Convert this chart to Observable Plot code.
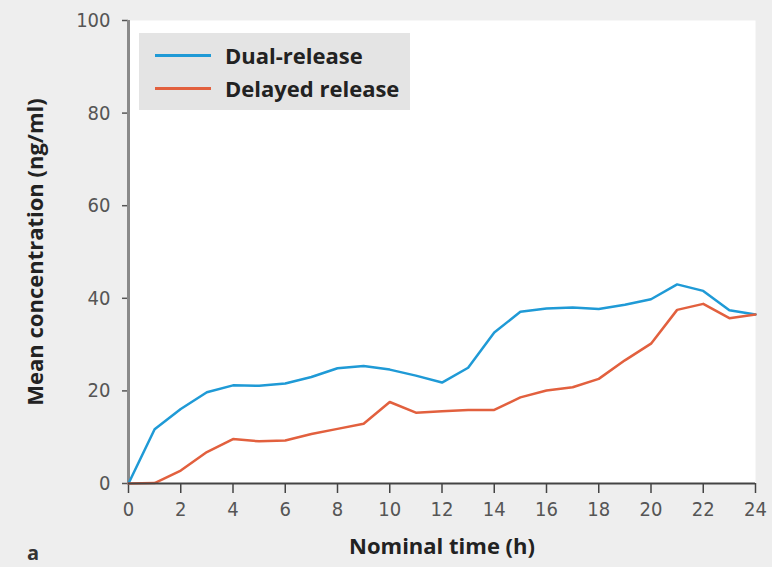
<!DOCTYPE html>
<html>
<head>
<meta charset="utf-8">
<script src="https://cdn.jsdelivr.net/npm/d3@7"></script>
<script src="https://cdn.jsdelivr.net/npm/@observablehq/plot@0.6"></script>
<style>
  html, body { margin: 0; padding: 0; background: #eeeeee; }
  #chart { position: relative; width: 772px; height: 567px; overflow: hidden; }
  #chart svg g[aria-label="x-axis tick label"] text,
  #chart svg g[aria-label="y-axis tick label"] text { font-stretch: condensed; }
  #legend {
    position: absolute; left: 139px; top: 33px; width: 271px; height: 77px;
    background: #e4e4e4; font-family: "Open Sans", sans-serif; font-weight: 700;
    font-size: 22px; color: #222;
  }
  #legend .item { position: absolute; left: 16px; height: 30px; display: flex; align-items: center; }
  #legend .swatch { width: 56px; height: 3px; margin-right: 14px; }
  #panel { position: absolute; left: 27px; top: 539px; font-family: "Open Sans", sans-serif;
    font-weight: 700; font-size: 20px; color: #333; }
</style>
</head>
<body>
<div id="chart"></div>
<script>
// Mean plasma concentration over 24 h for two formulations
const hours = [0, 1, 2, 3, 4, 5, 6, 7, 8, 9, 10, 11, 12, 13, 14, 15, 16, 17, 18, 19, 20, 21, 22, 23, 24];
const dualRelease = [0, 11.7, 16.1, 19.7, 21.2, 21.1, 21.6, 23.0, 24.9, 25.4, 24.6, 23.3, 21.8, 25.0, 32.6, 37.1, 37.8, 38.0, 37.7, 38.6, 39.8, 43.0, 41.6, 37.4, 36.5];
const delayedRelease = [0, 0.1, 2.8, 6.8, 9.6, 9.1, 9.3, 10.7, 11.8, 12.9, 17.6, 15.3, 15.6, 15.9, 15.9, 18.6, 20.1, 20.8, 22.6, 26.6, 30.2, 37.5, 38.8, 35.7, 36.5];

const seriesNames = ["Dual-release", "Delayed release"];
const seriesColors = ["#1f9ad6", "#e2603e"];

const xTicks = [0, 2, 4, 6, 8, 10, 12, 14, 16, 18, 20, 22, 24];
const yTicks = [0, 20, 40, 60, 80, 100];

const xTitle = "Nominal time (h)";
const yTitle = "Mean concentration (ng/ml)";
const panelLabel = "a";

const rows = [
  ...hours.map((h, i) => ({hour: h, value: dualRelease[i], series: seriesNames[0]})),
  ...hours.map((h, i) => ({hour: h, value: delayedRelease[i], series: seriesNames[1]}))
];

const tickFont = '"DejaVu Sans Condensed", "DejaVu Sans", sans-serif';
const titleFont = '"Open Sans", sans-serif';

const plot = Plot.plot({
  width: 772,
  height: 567,
  marginLeft: 128,
  marginRight: 17,
  marginTop: 20,
  marginBottom: 84,
  style: {background: "#eeeeee", fontFamily: tickFont},
  x: {domain: [0, 24], axis: null},
  y: {domain: [0, 100], axis: null},
  color: {domain: seriesNames, range: seriesColors},
  marks: [
    Plot.frame({fill: "white", stroke: null}),
    Plot.axisX({ticks: xTicks, tickSize: 10, tickPadding: 8, stroke: "#444", strokeWidth: 1.5,
      fontSize: 20, fill: "#555", label: null}),
    Plot.axisY({ticks: yTicks, tickSize: 6, tickPadding: 12, stroke: "#555", strokeWidth: 1.5,
      fontSize: 20, fill: "#555", label: null}),
    Plot.ruleX([0], {stroke: "#8a8a8a", strokeWidth: 3}),
    Plot.line(rows, {x: "hour", y: "value", z: "series", stroke: "series", strokeWidth: 2.5,
      strokeLinejoin: "round"}),
    Plot.ruleY([0], {stroke: "#444", strokeWidth: 2}),
    Plot.text([xTitle], {frameAnchor: "bottom", dy: 70, fontSize: 22, fontWeight: "bold",
      fill: "#222", fontFamily: titleFont}),
    Plot.text([yTitle], {frameAnchor: "left", textAnchor: "middle", rotate: -90, dx: -93,
      fontSize: 22, fontWeight: "bold", fill: "#222", fontFamily: titleFont})
  ]
});

const chart = document.getElementById("chart");
chart.appendChild(plot);

// Legend overlaid on the upper-left of the plot area
const legend = document.createElement("div");
legend.id = "legend";
seriesNames.forEach((name, i) => {
  const item = document.createElement("div");
  item.className = "item";
  item.style.top = (7 + i * 33) + "px";
  const sw = document.createElement("div");
  sw.className = "swatch";
  sw.style.background = seriesColors[i];
  const label = document.createElement("span");
  label.textContent = name;
  item.appendChild(sw);
  item.appendChild(label);
  legend.appendChild(item);
});
chart.appendChild(legend);

const panel = document.createElement("div");
panel.id = "panel";
panel.textContent = panelLabel;
chart.appendChild(panel);
</script>
</body>
</html>
